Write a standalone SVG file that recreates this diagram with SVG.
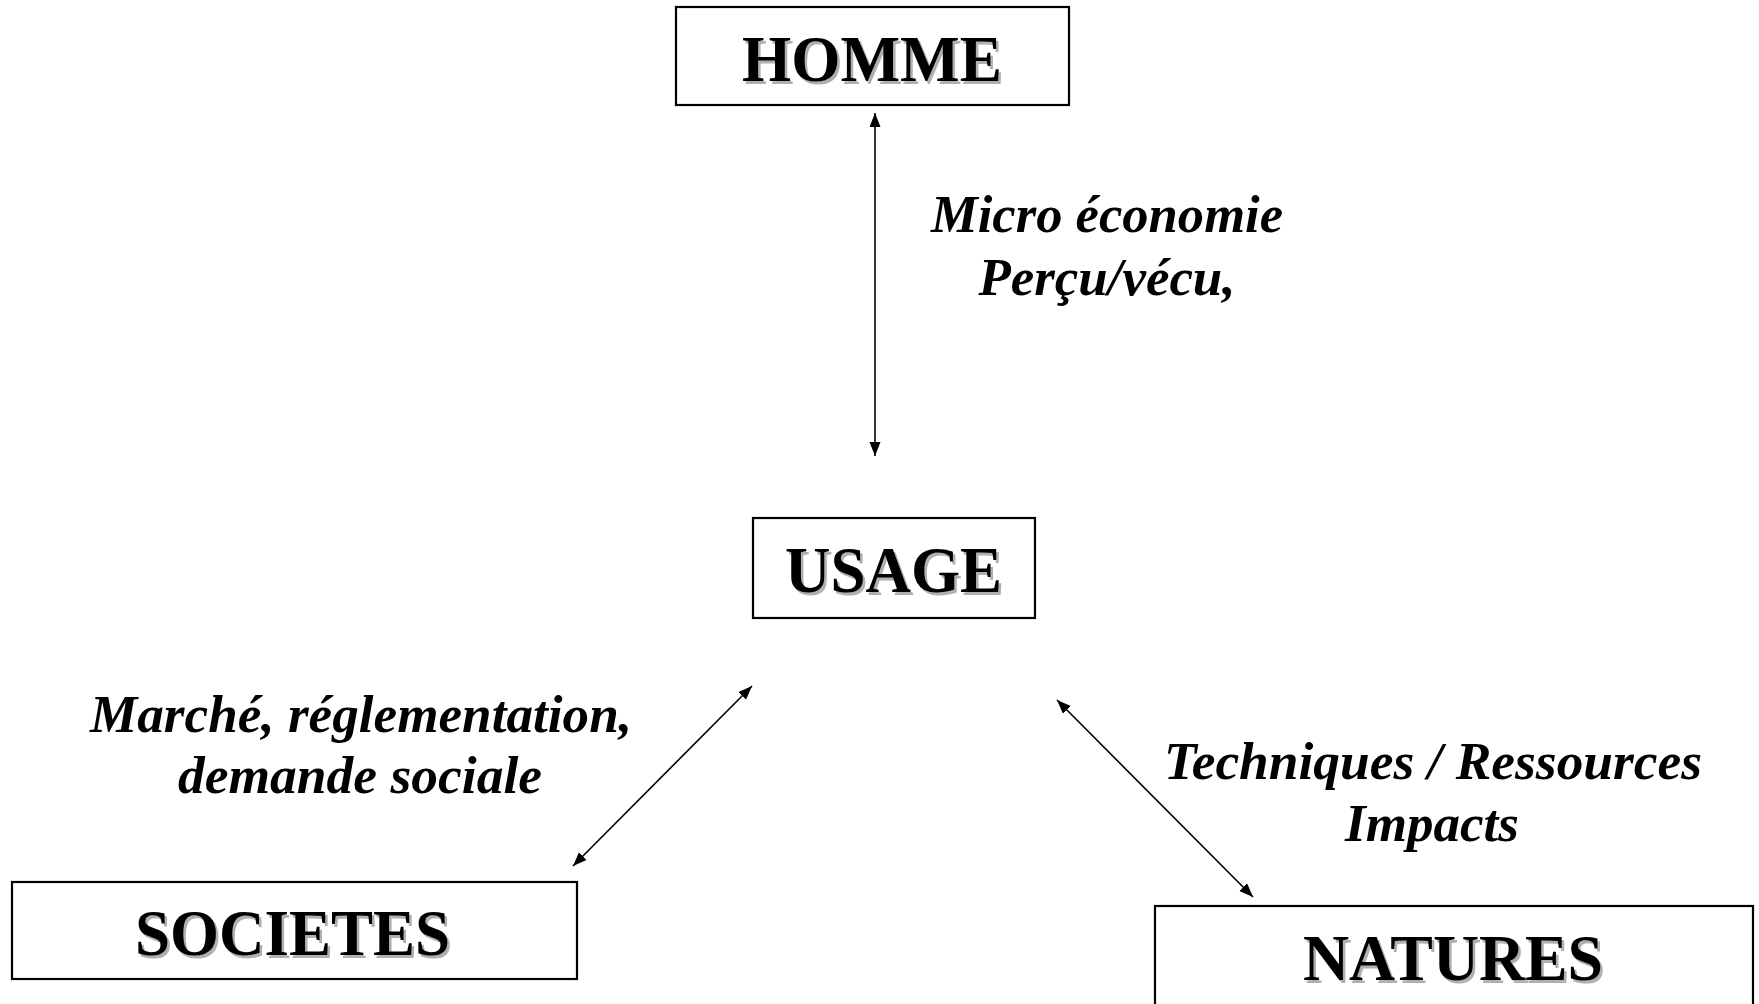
<svg xmlns="http://www.w3.org/2000/svg" width="1759" height="1004" viewBox="0 0 1759 1004">
<style>
.box{fill:#fff;stroke:#000;stroke-width:2.2}
.title{font-family:"Liberation Serif","Times New Roman",serif;font-weight:bold;font-size:65px;text-anchor:middle;fill:#000}
.shadow{fill:#b0b0b0}
.lbl{font-family:"Liberation Serif","Times New Roman",serif;font-weight:bold;font-style:italic;font-size:53px;text-anchor:middle;fill:#000}
.conn{stroke:#000;stroke-width:1.6;fill:none;marker-start:url(#ah);marker-end:url(#ah)}
</style>
<defs>
<marker id="ah" markerUnits="userSpaceOnUse" markerWidth="15" markerHeight="12" refX="14" refY="5.5" orient="auto-start-reverse">
<path d="M0,0 L14,5.5 L0,11 z" fill="#000"/>
</marker>
</defs>
<rect width="1759" height="1004" fill="#fff"/>
<g id="connectors">
<line class="conn" x1="875" y1="113" x2="875" y2="456"/>
<line class="conn" x1="752" y1="686" x2="573" y2="866"/>
<line class="conn" x1="1057" y1="700" x2="1253" y2="897"/>
</g>
<g id="homme">
<rect class="box" x="676" y="7" width="393" height="98"/>
<text class="title shadow" x="874.5" y="83.5" textLength="260" lengthAdjust="spacingAndGlyphs">HOMME</text>
<text class="title" x="872" y="81" textLength="260" lengthAdjust="spacingAndGlyphs">HOMME</text>
</g>
<g id="usage">
<rect class="box" x="753" y="518" width="282" height="100"/>
<text class="title shadow" x="896" y="594.5" textLength="217" lengthAdjust="spacingAndGlyphs">USAGE</text>
<text class="title" x="893.5" y="592" textLength="217" lengthAdjust="spacingAndGlyphs">USAGE</text>
</g>
<g id="societes">
<rect class="box" x="12" y="882" width="565" height="97"/>
<text class="title shadow" x="295" y="957.5" textLength="315" lengthAdjust="spacingAndGlyphs">SOCIETES</text>
<text class="title" x="292.5" y="955" textLength="315" lengthAdjust="spacingAndGlyphs">SOCIETES</text>
</g>
<g id="natures">
<rect class="box" x="1155" y="906" width="598" height="120"/>
<text class="title shadow" x="1455.5" y="982.5" textLength="300" lengthAdjust="spacingAndGlyphs">NATURES</text>
<text class="title" x="1453" y="980" textLength="300" lengthAdjust="spacingAndGlyphs">NATURES</text>
</g>
<g id="label-homme-usage">
<text class="lbl" x="1107" y="232" textLength="352" lengthAdjust="spacingAndGlyphs">Micro économie</text>
<text class="lbl" x="1107" y="295" textLength="257" lengthAdjust="spacingAndGlyphs">Perçu/vécu,</text>
</g>
<g id="label-societes-usage">
<text class="lbl" x="361" y="732" textLength="542" lengthAdjust="spacingAndGlyphs">Marché, réglementation,</text>
<text class="lbl" x="360" y="793" textLength="364" lengthAdjust="spacingAndGlyphs">demande sociale</text>
</g>
<g id="label-natures-usage">
<text class="lbl" x="1433" y="779" textLength="538" lengthAdjust="spacingAndGlyphs">Techniques / Ressources</text>
<text class="lbl" x="1432" y="841" textLength="174" lengthAdjust="spacingAndGlyphs">Impacts</text>
</g>
</svg>
